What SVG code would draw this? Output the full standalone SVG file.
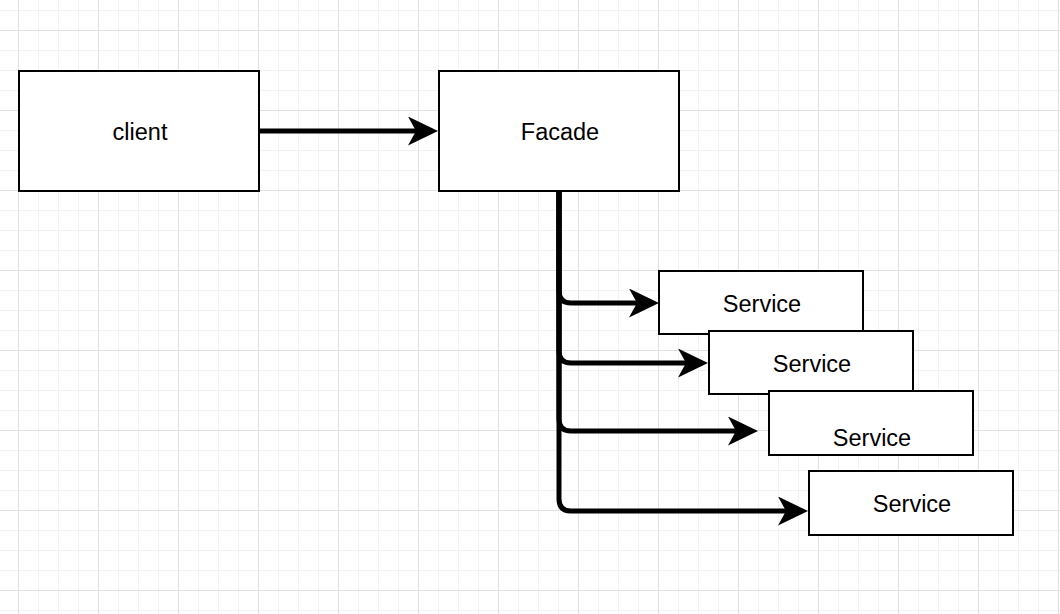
<svg xmlns="http://www.w3.org/2000/svg" width="1060" height="614" viewBox="0 0 1060 614">
<style>
.box{fill:#fff;stroke:#000;stroke-width:2}
.lbl{font-family:"Liberation Sans",Arial,sans-serif;font-size:23.5px;fill:#000;text-anchor:middle}
.edge{fill:none;stroke:#000;stroke-width:5;stroke-linejoin:round;marker-end:url(#arr)}
</style>
<defs>
<pattern id="grid" patternUnits="userSpaceOnUse" x="18" y="30" width="80" height="80">
<path d="M20.5,0V80M40.5,0V80M60.5,0V80M0,20.5H80M0,40.5H80M0,60.5H80" stroke="#f2f2f2" stroke-width="1" fill="none"/>
<path d="M0.5,0V80M0,0.5H80" stroke="#e0e0e0" stroke-width="1" fill="none"/>
</pattern>
<marker id="arr" markerUnits="userSpaceOnUse" viewBox="0 0 30 29" refX="8" refY="14.5" markerWidth="30" markerHeight="29" orient="auto">
<path d="M30,14.5L0,0L8,14.5L0,29Z" fill="#000"/>
</marker>
</defs>
<rect width="1060" height="614" fill="#fff"/>
<rect width="1060" height="614" fill="url(#grid)"/>
<g id="connectors">
<path class="edge" d="M260,131H416"/>
<path class="edge" d="M559,191V291Q559,303 571,303H637"/>
<path class="edge" d="M559,191V351Q559,363 571,363H686"/>
<path class="edge" d="M559,191V419Q559,431 571,431H736"/>
<path class="edge" d="M559,191V499Q559,511 571,511H786"/>
</g>
<g id="client"><rect class="box" x="19" y="71" width="240" height="120"/><text class="lbl" x="140" y="140">client</text></g>
<g id="facade"><rect class="box" x="439" y="71" width="240" height="120"/><text class="lbl" x="560" y="140">Facade</text></g>
<g id="service1"><rect class="box" x="659" y="271" width="204" height="63"/><text class="lbl" x="762" y="312">Service</text></g>
<g id="service2"><rect class="box" x="709" y="331" width="204" height="63"/><text class="lbl" x="812" y="372">Service</text></g>
<g id="service3"><rect class="box" x="769" y="391" width="204" height="64"/><text class="lbl" x="872" y="446">Service</text></g>
<g id="service4"><rect class="box" x="809" y="471" width="204" height="64"/><text class="lbl" x="912" y="512">Service</text></g>
</svg>
